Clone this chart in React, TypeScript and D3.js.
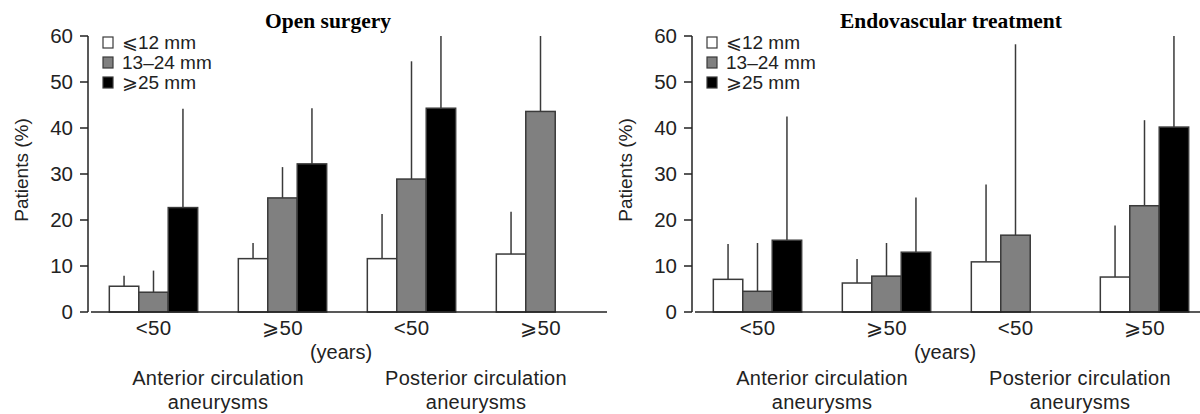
import React from 'react';
import * as d3 from 'd3';

// x categories (age groups) and the circulation they belong to
const ageGroups = ['<50', '⩾50', '<50', '⩾50'];
const circulation = [['Anterior circulation', 'aneurysms'], ['Posterior circulation', 'aneurysms']];
const sizes = ['⩽12 mm', '13–24 mm', '⩾25 mm'];
const sizeColors = ['#ffffff', '#808080', '#000000'];
const yTicks = [0, 10, 20, 30, 40, 50, 60];

// Open surgery: bar value and top of error bar
const openSmall = [5.6, 11.6, 11.6, 12.6];
const openSmallErr = [7.9, 15.0, 21.3, 21.8];
const openMid = [4.3, 24.8, 28.9, 43.6];
const openMidErr = [9.0, 31.5, 54.5, 60];
const openLarge = [22.7, 32.2, 44.3, 0];
const openLargeErr = [44.2, 44.3, 60, 0];

// Endovascular treatment
const endoSmall = [7.1, 6.3, 10.9, 7.6];
const endoSmallErr = [14.8, 11.5, 27.7, 18.8];
const endoMid = [4.5, 7.8, 16.7, 23.1];
const endoMidErr = [15.0, 15.0, 58.2, 41.7];
const endoLarge = [15.6, 13.0, 0, 40.2];
const endoLargeErr = [42.5, 24.9, 0, 60];

const sans = '"Liberation Sans", Arial, "DejaVu Sans", sans-serif';
const ink = '#222';

type PanelProps = {
  title: string;
  titleX: number;
  axisX: number;
  values: number[][];
  errors: number[][];
};

function Panel({ title, titleX, axisX, values, errors }: PanelProps) {
  const y = d3.scaleLinear().domain([0, 60]).range([312, 36]);
  const x = d3.scaleBand<number>()
    .domain(ageGroups.map((_, i) => i))
    .range([axisX + 1, axisX + 517])
    .paddingInner(0)
    .paddingOuter(0);
  const xs = d3.scaleBand<number>()
    .domain(sizes.map((_, i) => i))
    .range([0, x.step()])
    .paddingInner(0)
    .paddingOuter(0.69);

  const center = (g: number) => (x(g) as number) + x.bandwidth() / 2;
  const yearsX = (center(1) + center(2)) / 2 - 6;

  return (
    <g>
      <text x={titleX} y={28} textAnchor="middle"
        style={{ fontFamily: '"Liberation Serif", "Times New Roman", serif', fontWeight: 'bold', fontSize: 21.5 }}>
        {title}
      </text>

      {/* y axis */}
      <line x1={axisX} x2={axisX} y1={y(60)} y2={y(0)} stroke={ink} strokeWidth={1.5} />
      {yTicks.map(t => (
        <g key={t}>
          <line x1={axisX - 8} x2={axisX} y1={y(t)} y2={y(t)} stroke={ink} strokeWidth={1.5} />
          <text x={axisX - 15} y={y(t)} dy="0.36em" textAnchor="end"
            style={{ fontFamily: sans, fontSize: 20.5, fill: ink }}>{t}</text>
        </g>
      ))}
      <text transform={`translate(${axisX - 60},170) rotate(-90)`} textAnchor="middle"
        style={{ fontFamily: sans, fontSize: 19, fill: ink }}>Patients (%)</text>

      {/* bars + error bars */}
      {values.map((series, s) => series.map((v, g) => {
        if (!v) return null;
        const bx = (x(g) as number) + (xs(s) as number);
        const bw = xs.bandwidth();
        return (
          <g key={`${s}-${g}`}>
            <line x1={bx + bw / 2} x2={bx + bw / 2} y1={y(v)} y2={y(errors[s][g])}
              stroke="#3a3a3a" strokeWidth={1.5} />
            <rect x={bx} y={y(v)} width={bw} height={y(0) - y(v)}
              fill={sizeColors[s]} stroke="#3a3a3a" strokeWidth={1.5} />
          </g>
        );
      }))}

      {/* x baseline */}
      <line x1={axisX + 3} x2={axisX + 519} y1={y(0)} y2={y(0)} stroke={ink} strokeWidth={1.5} />

      {ageGroups.map((a, g) => (
        <text key={g} x={center(g)} y={335} textAnchor="middle"
          style={{ fontFamily: sans, fontSize: 20.5, letterSpacing: 0.3, fill: ink }}>{a}</text>
      ))}
      <text x={yearsX} y={359} textAnchor="middle"
        style={{ fontFamily: sans, fontSize: 20, fill: ink }}>(years)</text>
      {circulation.map((lines, c) => {
        const cx = (center(c * 2) + center(c * 2 + 1)) / 2;
        return lines.map((l, k) => (
          <text key={`${c}-${k}`} x={cx} y={385 + k * 24} textAnchor="middle"
            style={{ fontFamily: sans, fontSize: 20, letterSpacing: 0.3, fill: ink }}>{l}</text>
        ));
      })}

      {/* legend */}
      {sizes.map((s, i) => (
        <g key={s}>
          <rect x={axisX + 15} y={37 + i * 20} width={10} height={11}
            fill={sizeColors[i]} stroke="#3a3a3a" strokeWidth={1.2} />
          <text x={axisX + 34} y={48.5 + i * 20}
            style={{ fontFamily: sans, fontSize: 19, fill: ink }}>{s}</text>
        </g>
      ))}
    </g>
  );
}

export default function App() {
  return (
    <svg width={1200} height={414} style={{ position: 'absolute', left: 0, top: 0, background: '#fff' }}>
      <Panel title="Open surgery" titleX={328} axisX={88}
        values={[openSmall, openMid, openLarge]}
        errors={[openSmallErr, openMidErr, openLargeErr]} />
      <Panel title="Endovascular treatment" titleX={951} axisX={692}
        values={[endoSmall, endoMid, endoLarge]}
        errors={[endoSmallErr, endoMidErr, endoLargeErr]} />
    </svg>
  );
}
